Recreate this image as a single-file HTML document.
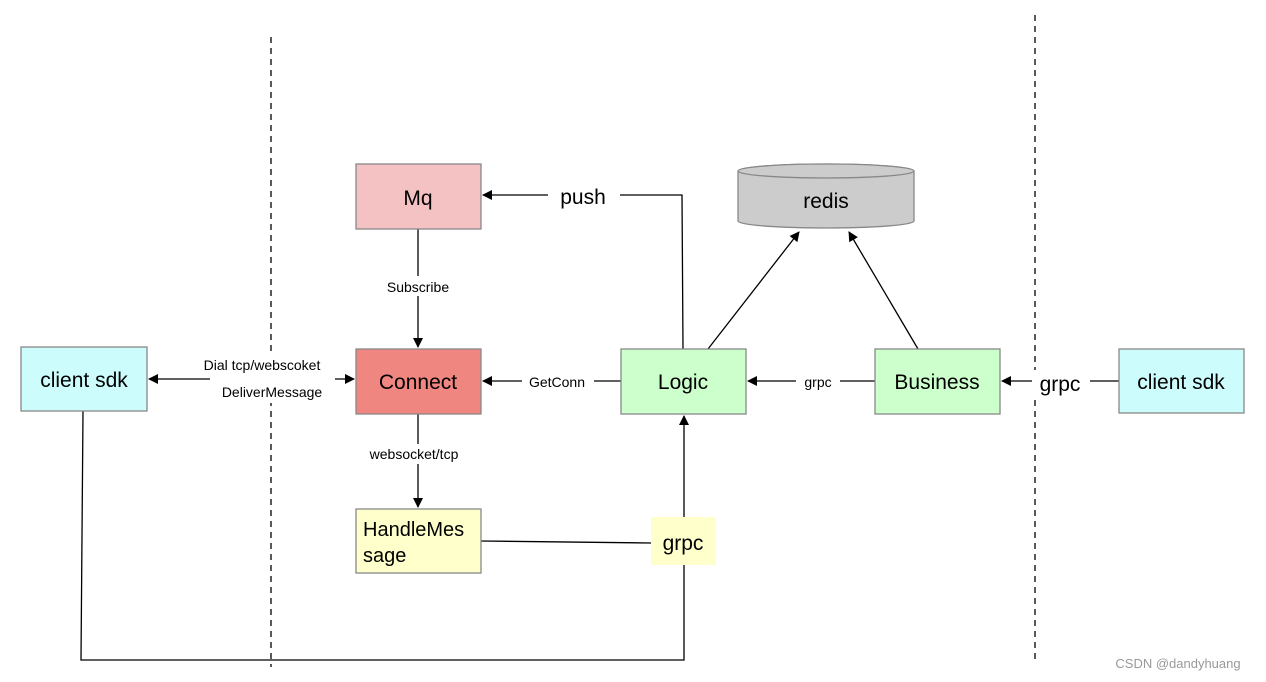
<!DOCTYPE html>
<html><head><meta charset="utf-8"><style>body{margin:0;background:#fff}svg{display:block}text{font-family:"Liberation Sans",Arial,sans-serif}</style></head><body>
<svg width="1266" height="682" viewBox="0 0 1266 682" xmlns="http://www.w3.org/2000/svg">
<defs><marker id="a" markerWidth="10" markerHeight="10" refX="9" refY="5" orient="auto" markerUnits="userSpaceOnUse"><path d="M0,0 L10,5 L0,10 Z" fill="#000"/></marker></defs>
<g stroke="#000" stroke-width="1.3" stroke-dasharray="6,5"><line x1="271" y1="37" x2="271" y2="667"/><line x1="1035" y1="15" x2="1035" y2="660"/></g>
<g stroke="#000" stroke-width="1.3" fill="none">
<polyline points="83,411 81,660 684,660 684,416" marker-end="url(#a)"/>
<line x1="481" y1="541" x2="651" y2="543"/>
<polyline points="683,349 682,195 483,195" marker-end="url(#a)"/>
<line x1="418" y1="229" x2="418" y2="347" marker-end="url(#a)"/>
<line x1="418" y1="414" x2="418" y2="507" marker-end="url(#a)"/>
<line x1="621" y1="381" x2="483" y2="381" marker-end="url(#a)"/>
<line x1="875" y1="381" x2="748" y2="381" marker-end="url(#a)"/>
<line x1="1119" y1="381" x2="1002" y2="381" marker-end="url(#a)"/>
<line x1="250" y1="379" x2="149" y2="379" marker-end="url(#a)"/>
<line x1="250" y1="379" x2="354" y2="379" marker-end="url(#a)"/>
<line x1="708" y1="349" x2="799" y2="232" marker-end="url(#a)"/>
<line x1="918" y1="349" x2="849" y2="232" marker-end="url(#a)"/>
</g>
<g fill="#fff">
<rect x="548" y="184" width="72" height="26"/><rect x="378" y="276" width="80" height="20"/><rect x="358" y="444" width="118" height="20"/>
<rect x="522" y="372" width="72" height="20"/><rect x="796" y="372" width="44" height="20"/><rect x="1032" y="370" width="58" height="26"/>
<rect x="210" y="355" width="125" height="48"/>
</g>
<g stroke="#888" stroke-width="1.3">
<rect x="21" y="347" width="126" height="64" fill="#ccfcfc"/>
<rect x="356" y="164" width="125" height="65" fill="#f4c2c2"/>
<rect x="356" y="349" width="125" height="65" fill="#f08680"/>
<rect x="356" y="509" width="125" height="64" fill="#ffffcc"/>
<rect x="621" y="349" width="125" height="65" fill="#ccffcc"/>
<rect x="875" y="349" width="125" height="65" fill="#ccffcc"/>
<rect x="1119" y="349" width="125" height="64" fill="#ccfcfc"/>
<path d="M738,171 L738,221 A88,7 0 0 0 914,221 L914,171 A88,7 0 0 0 738,171 Z" fill="#cccccc"/>
<ellipse cx="826" cy="171" rx="88" ry="7" fill="#cccccc"/>
</g>
<rect x="651" y="517" width="65" height="48" fill="#ffffcc"/>
<g font-size="21" text-anchor="middle">
<text x="84" y="387">client sdk</text><text x="418" y="205">Mq</text><text x="418" y="389">Connect</text>
<text x="683" y="389">Logic</text><text x="937" y="389">Business</text><text x="1181" y="389">client sdk</text>
<text x="826" y="208">redis</text><text x="583" y="204">push</text><text x="683" y="550">grpc</text><text x="1060" y="391">grpc</text>
</g>
<g font-size="20"><text x="363" y="536">HandleMes</text><text x="363" y="562">sage</text></g>
<g font-size="14" text-anchor="middle">
<text x="418" y="292">Subscribe</text><text x="414" y="459">websocket/tcp</text><text x="557" y="387">GetConn</text>
<text x="818" y="387">grpc</text><text x="262" y="370">Dial tcp/webscoket</text><text x="272" y="397">DeliverMessage</text>
</g>
<text x="1178" y="668" font-size="13" fill="#999" text-anchor="middle">CSDN @dandyhuang</text>
</svg>
</body></html>
